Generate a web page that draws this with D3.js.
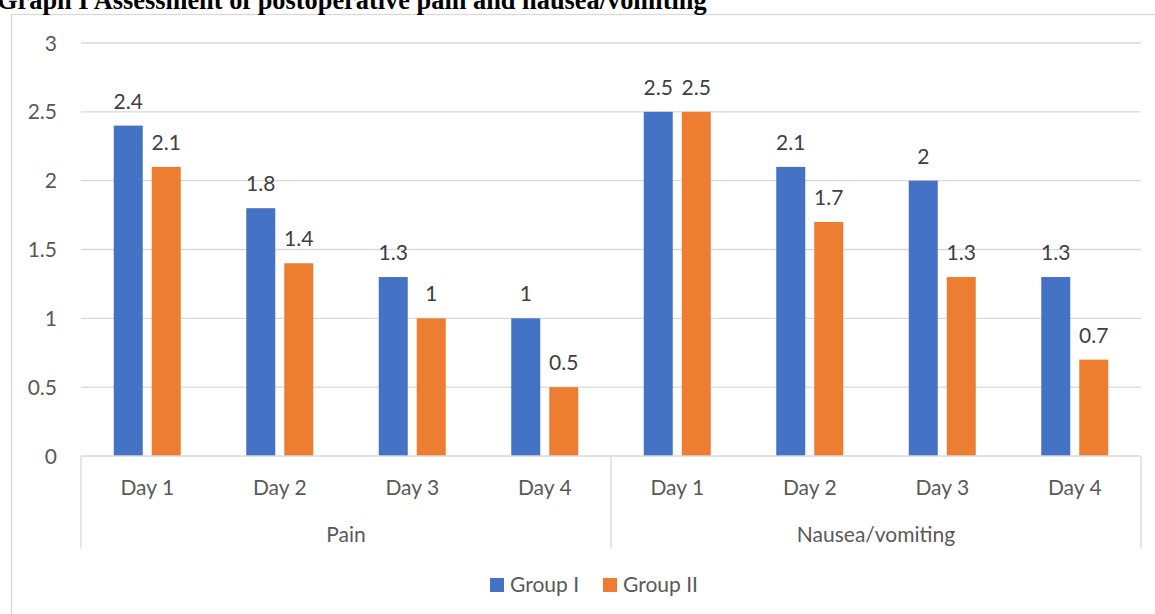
<!DOCTYPE html>
<html>
<head>
<meta charset="utf-8">
<script src="https://cdn.jsdelivr.net/npm/d3@7"></script>
<style>
  html, body { margin: 0; padding: 0; background: #fff; }
  svg { display: block; }
</style>
</head>
<body>
<svg id="chart" width="1155" height="614"></svg>
<script>
const title = "Graph I Assessment of postoperative pain and nausea/vomiting";
const groups = ["Pain", "Nausea/vomiting"];
const days = ["Day 1", "Day 2", "Day 3", "Day 4"];
const seriesNames = ["Group I", "Group II"];
const painGroupI = [2.4, 1.8, 1.3, 1.0];
const painGroupII = [2.1, 1.4, 1.0, 0.5];
const nauseaGroupI = [2.5, 2.1, 2.0, 1.3];
const nauseaGroupII = [2.5, 1.7, 1.3, 0.7];
const yTicks = [0, 0.5, 1, 1.5, 2, 2.5, 3];
const colors = ["#4472C4", "#ED7D31"];

(function () {
const seriesValues = [
  painGroupI.concat(nauseaGroupI),
  painGroupII.concat(nauseaGroupII)
];
const cats = [];
groups.forEach(g => days.forEach(d => cats.push({ key: g + "|" + d, group: g, day: d })));

const svg = d3.select("#chart");
const font = "Lato, 'Open Sans', sans-serif";
const fs = 21;

// outer border
svg.append("rect").attr("x", 11.5).attr("y", 14.5).attr("width", 1200).attr("height", 700)
  .attr("fill", "none").attr("stroke", "#d9d9d9").attr("stroke-width", 1.3);

// title (clipped at top, as in the reference)
const t = svg.append("text").attr("x", -3).attr("y", 9)
  .attr("font-family", "'Liberation Serif', 'Times New Roman', serif")
  .attr("font-weight", "bold").attr("font-size", 22).attr("fill", "#000").text(title);
const tw = t.node().getComputedTextLength();
t.attr("font-size", 22 * 710 / tw);

const pLeft = 81, pRight = 1141, pTop = 43, pBottom = 456;
const x = d3.scaleBand().domain(cats.map(c => c.key)).range([pLeft, pRight]).padding(0);
const xInner = d3.scaleBand().domain(seriesNames).range([0, x.bandwidth()])
  .paddingInner(0.237).paddingOuter(0.862);
const y = d3.scaleLinear().domain([0, 3]).range([pBottom, pTop]);

// gridlines
svg.append("g").selectAll("line").data(yTicks.filter(v => v > 0)).join("line")
  .attr("x1", pLeft).attr("x2", pRight)
  .attr("y1", d => y(d)).attr("y2", d => y(d))
  .attr("stroke", "#d9d9d9").attr("stroke-width", 1.3);

// y axis labels
svg.append("g").selectAll("text").data(yTicks).join("text")
  .attr("x", 57).attr("y", d => y(d)).attr("dy", "0.36em")
  .attr("text-anchor", "end").attr("font-family", font).attr("font-size", fs)
  .attr("fill", "#595959").text(d => d3.format("")(d));

// bars
seriesNames.forEach((s, si) => {
  const g = svg.append("g");
  g.selectAll("rect").data(cats).join("rect")
    .attr("x", c => x(c.key) + xInner(s))
    .attr("width", xInner.bandwidth())
    .attr("y", (c, i) => y(seriesValues[si][i]))
    .attr("height", (c, i) => y(0) - y(seriesValues[si][i]))
    .attr("fill", colors[si]);
  g.selectAll("text").data(cats).join("text")
    .attr("x", c => x(c.key) + xInner(s) + xInner.bandwidth() / 2)
    .attr("y", (c, i) => y(seriesValues[si][i]) - 17)
    .attr("text-anchor", "middle").attr("font-family", font).attr("font-size", fs)
    .attr("fill", "#404040").text((c, i) => d3.format("")(seriesValues[si][i]));
});

// x axis baseline
svg.append("line").attr("x1", pLeft).attr("x2", pRight).attr("y1", pBottom).attr("y2", pBottom)
  .attr("stroke", "#d9d9d9").attr("stroke-width", 1.3);

// group separators
const sepX = [pLeft];
groups.forEach(g => {
  const ks = cats.filter(c => c.group === g);
  sepX.push(x(ks[ks.length - 1].key) + x.bandwidth());
});
svg.append("g").selectAll("line").data(sepX).join("line")
  .attr("x1", d => d).attr("x2", d => d).attr("y1", pBottom).attr("y2", 548)
  .attr("stroke", "#d9d9d9").attr("stroke-width", 1.3);

// day labels
svg.append("g").selectAll("text").data(cats).join("text")
  .attr("x", c => x(c.key) + x.bandwidth() / 2).attr("y", 495)
  .attr("text-anchor", "middle").attr("font-family", font).attr("font-size", fs)
  .attr("fill", "#595959").text(c => c.day);

// group labels
svg.append("g").selectAll("text").data(groups).join("text")
  .attr("x", g => {
    const ks = cats.filter(c => c.group === g);
    return (x(ks[0].key) + x(ks[ks.length - 1].key) + x.bandwidth()) / 2;
  })
  .attr("y", 542).attr("text-anchor", "middle").attr("font-family", font).attr("font-size", fs)
  .attr("fill", "#595959").text(g => g);

// legend
const legendX = [490, 603];
const lg = svg.append("g");
seriesNames.forEach((s, i) => {
  lg.append("rect").attr("x", legendX[i]).attr("y", 578).attr("width", 14).attr("height", 14)
    .attr("fill", colors[i]);
  lg.append("text").attr("x", legendX[i] + 20).attr("y", 592)
    .attr("font-family", font).attr("font-size", fs).attr("fill", "#595959").text(s);
});
})();
</script>
</body>
</html>
